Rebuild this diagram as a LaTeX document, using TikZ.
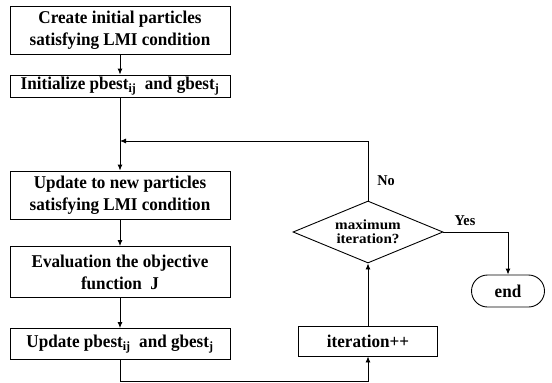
\documentclass[tikz,border=0pt]{standalone}
\usepackage{fontspec}
\setmainfont{Liberation Serif}
\newfontfamily\mainfnt[FakeStretch=0.95]{Liberation Serif}
\newfontfamily\widefnt[FakeStretch=1.08]{Liberation Serif}
\usetikzlibrary{shapes.geometric,shapes.misc,arrows.meta}
\begin{document}
\begin{tikzpicture}[x=1pt,y=-1pt,
  every node/.style={font=\mainfnt\fontsize{18}{22}\selectfont\bfseries},
  box/.style={draw,line width=0.9pt,minimum width=220pt,inner sep=0pt,align=center},
  arr/.style={line width=0.9pt,-{Latex[length=6pt,width=5pt]}},
  ln/.style={line width=0.9pt},
  lbl/.style={font=\mainfnt\fontsize{15}{17}\selectfont\bfseries,inner sep=0pt}]
\useasboundingbox (0,0) rectangle (552,383);
\node[box,minimum height=48pt] (b1) at (120,30) {Create initial particles\\satisfying LMI condition};
\node[box,minimum height=22pt] (b2) at (120,86) {Initialize pbest\textsubscript{ij}\ \ and gbest\textsubscript{j}};
\node[box,minimum height=48pt] (b3) at (120,195) {Update to new particles\\satisfying LMI condition};
\node[box,minimum height=51pt] (b4) at (120,272) {Evaluation the objective\\function\ \ J};
\node[box,minimum height=31pt] (b5) at (120,344) {Update pbest\textsubscript{ij}\ \ and gbest\textsubscript{j}};
\node[box,minimum width=139pt,minimum height=30pt] (it) at (368,341) {iteration++};
\node[draw,diamond,line width=0.9pt,inner sep=0pt,shape aspect=2.42,minimum width=150pt,minimum height=62pt,align=center,font=\widefnt\fontsize{14}{14}\selectfont\bfseries] (dm) at (368,232) {maximum\\iteration?};
\node[draw,rounded rectangle,line width=0.9pt,minimum width=73pt,minimum height=32pt,inner sep=0pt] (en) at (508,291) {end};
\coordinate (j) at (120,141);
\coordinate (c1) at (120,381);
\coordinate (c2) at (368,381);
\coordinate (c3) at (368,141);
\coordinate (c4) at (508,232);
\draw[arr] (b1) -- (b2);
\draw[ln] (b2) -- (j);
\draw[arr] (j) -- (b3);
\draw[arr] (b3) -- (b4);
\draw[arr] (b4) -- (b5);
\draw[arr] (b5.south) -- (c1) -- (c2) -- (it.south);
\draw[arr] (it) -- (dm);
\draw[arr] (dm.north) -- (c3) -- (j);
\draw[arr] (dm.east) -- (c4) -- (en.north);
\node[lbl] (no) at (386,181) {No};
\node[lbl] (yes) at (465,221) {Yes};
\end{tikzpicture}
\end{document}
